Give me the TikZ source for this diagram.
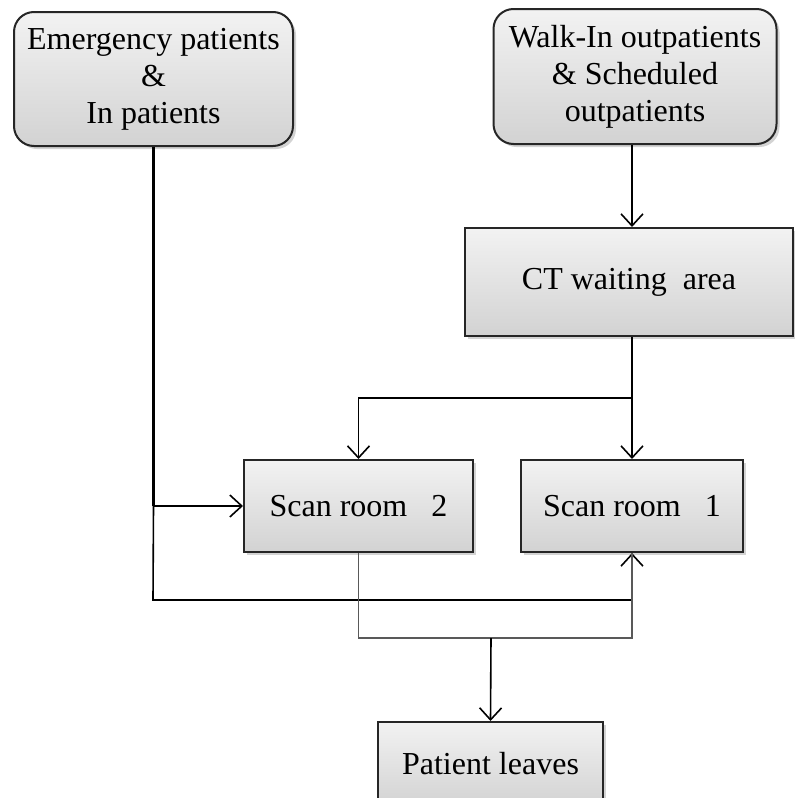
\documentclass[tikz,border=0pt]{standalone}
\usepackage{fontspec}
\setmainfont{Liberation Serif}
\usetikzlibrary{arrows.meta,shadows}

\tikzset{
  box/.style={draw=black!85, line width=1pt, top color=gray!10, bottom color=gray!35,
    drop shadow={shadow xshift=1.5pt, shadow yshift=-1.5pt, opacity=0.35},
    align=center, inner sep=0pt, font=\fontsize{16}{18.5}\selectfont},
  roundbox/.style={box, rounded corners=10pt},
  flow/.style={line width=0.8pt, -{Straight Barb[length=6pt,width=11pt,line width=0.8pt]}},
  plain/.style={line width=0.8pt}
}

\begin{document}
\begin{tikzpicture}[x=0.5pt, y=-0.5pt]
    \useasboundingbox (0,0) rectangle (795,798);

    % Sources
    \node[roundbox, minimum width=139.5pt, minimum height=67pt] (emerg) at (153.5,79)
        {Emergency patients\\\&\\In patients};
    \node[roundbox, minimum width=141.5pt, minimum height=67.5pt] (walkin) at (635,76.5)
        {Walk-In outpatients\\\& Scheduled\\outpatients};

    % Waiting area and scan rooms
    \node[box, minimum width=164pt, minimum height=54pt] (wait) at (629,282) {CT waiting\ \ area};
    \node[box, minimum width=114.5pt, minimum height=46pt] (scantwo) at (358.5,506) {Scan room\ \ \ 2};
    \node[box, minimum width=111pt, minimum height=46pt] (scanone) at (632,506) {Scan room\ \ \ 1};
    \node[box, minimum width=112.5pt, minimum height=42pt] (leaves) at (490.5,764) {Patient leaves};

    % Junction points
    \coordinate (split) at (632,398);
    \coordinate (emlow) at (153,600);
    \coordinate (outlow) at (491,638);

    % Emergency path
    \draw[line width=1.4pt] (emerg.south) -- (emerg.south |- scantwo.west);
    \draw[flow] (emerg.south |- scantwo.west) -- (scantwo.west);
    \draw[flow] (emerg.south |- scantwo.west) -- (emlow) -| (scanone.south);

    % Outpatient path
    \draw[flow] (walkin.south -| split) -- (wait.north -| split);
    \draw[plain] (wait.south -| split) -- (split);
    \draw[flow] (split) -- (scanone.north);
    \draw[flow] (split) -| (scantwo.north);

    % Leaving
    \draw[plain, draw=black!65] (scantwo.south) |- (outlow) -| (scanone.south);
    \draw[flow] (outlow) -- (leaves.north);
\end{tikzpicture}
\end{document}
